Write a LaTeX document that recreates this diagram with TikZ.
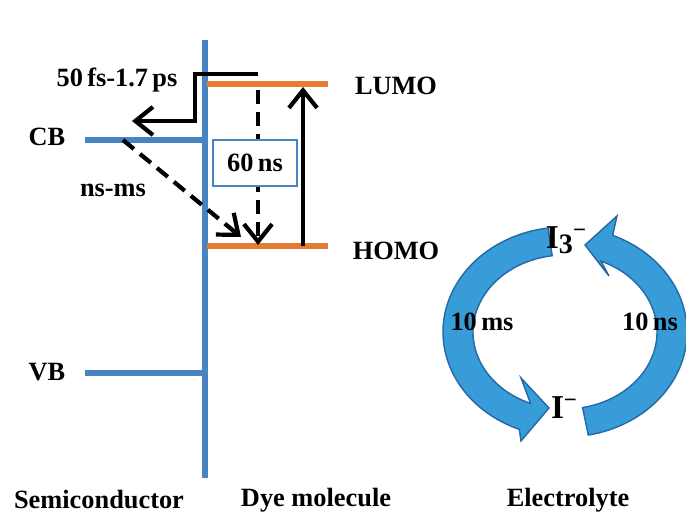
\documentclass[tikz,border=0pt]{standalone}
\usepackage{fontspec}
\setmainfont{Liberation Serif}
\usetikzlibrary{arrows.meta}
\definecolor{bleuniv}{RGB}{72,132,196}
\definecolor{orangeniv}{RGB}{228,124,54}
\definecolor{bleucycle}{RGB}{56,156,216}
\definecolor{bleubord}{RGB}{36,104,164}
\tikzset{
  niveau/.style={line width=3pt, bleuniv},
  orbitale/.style={line width=3.4pt, orangeniv},
  fleche/.style={line width=2.4pt, -{Straight Barb[length=10pt,width=16pt]}},
  pointille/.style={fleche, dash pattern=on 8pt off 4.5pt},
  etiquette/.style={font=\bfseries\fontsize{15}{17}\selectfont, inner sep=1pt},
  cycle/.style={fill=bleucycle, draw=bleubord, line width=0.8pt},
}
\begin{document}
\begin{tikzpicture}[x=0.02cm, y=-0.02cm]
    % cadre : 686 x 520 (unites en pixels)
    \useasboundingbox (0,0) rectangle (686,520);
    \def\cx{565} % centre du cycle
    \def\cy{332}

    % interface semi-conducteur / colorant
    \draw[niveau] (205,40) -- (205,478);
    \coordinate (cbG) at (85,140);  \coordinate (cbD) at (205,140);
    \coordinate (vbG) at (85,373);  \coordinate (vbD) at (205,373);
    \draw[niveau] (cbG) -- (cbD);
    \draw[niveau] (vbG) -- (vbD);

    % niveaux du colorant
    \coordinate (lumoG) at (207,84);  \coordinate (lumoD) at (328,84);
    \coordinate (homoG) at (207,246); \coordinate (homoD) at (328,246);
    \draw[orbitale] (lumoG) -- (lumoD);
    \draw[orbitale] (homoG) -- (homoD);

    \node[etiquette] (lumo) at (396,86) {LUMO};
    \node[etiquette] (homo) at (396,251) {HOMO};
    \node[etiquette] (cb) at (47,137) {CB};
    \node[etiquette] (vb) at (47,372) {VB};

    % injection
    \coordinate (inj) at (258,74);
    \coordinate (coude) at (195,121);
    \coordinate (injFin) at (132,121);
    \draw[fleche] (inj) -| (coude) -- (injFin);
    \node[etiquette] (tinj) at (117,80) {50\,fs-1.7\,ps};

    % recombinaison
    \coordinate (recDeb) at (123,140);
    \coordinate (recFin) at (241,237);
    \draw[pointille] (recDeb) -- (recFin);
    \node[etiquette] (trec) at (113,190) {ns-ms};

    % relaxation et excitation
    \coordinate (relDeb) at (258,90);
    \coordinate (relFin) at (258,245);
    \draw[pointille] (relDeb) -- (relFin);
    \node[etiquette, draw=bleuniv, line width=0.8pt, fill=white,
          minimum width=48pt, minimum height=26pt] (trel) at (255,163) {60\,ns};
    \coordinate (excDeb) at (303,246);
    \coordinate (excFin) at (303,87);
    \draw[fleche] (excDeb) -- (excFin);

    % cycle redox de l'electrolyte
    \fill[cycle] ({\cx+122*cos(262)},{\cy+105*sin(262)})
      arc[start angle=262, end angle=112, x radius=122, y radius=105]
      -- (521,441) -- (549,408) -- (521,378)
      -- ({\cx+92*cos(112)},{\cy+77*sin(112)})
      arc[start angle=112, end angle=262, x radius=92, y radius=77] -- cycle;
    \draw[cycle] ({\cx+122*cos(79)},{\cy+105*sin(79)})
      arc[start angle=79, end angle=-67, x radius=122, y radius=105]
      -- (617,216) -- (585,245) -- (609,276)
      -- ({\cx+92*cos(-67)},{\cy+77*sin(-67)})
      arc[start angle=-67, end angle=79, x radius=92, y radius=77] -- cycle;

    \node[etiquette, font=\bfseries\fontsize{19}{21}\selectfont] (itrois) at (566,240)
      {I\raisebox{-0.3ex}{\fontsize{16}{18}\selectfont 3}\raisebox{0.75ex}{\fontsize{13}{15}\selectfont −}};
    \node[etiquette, font=\bfseries\fontsize{19}{21}\selectfont] (iun) at (564,408)
      {I\raisebox{0.75ex}{\fontsize{13}{15}\selectfont −}};
    \node[etiquette] (tms) at (482,322) {10\,ms};
    \node[etiquette] (tns) at (650,322) {10\,ns};

    % legendes
    \node[etiquette] (sc) at (99,500) {Semiconductor};
    \node[etiquette] (dye) at (316,500) {Dye molecule};
    \node[etiquette] (el) at (568,500) {Electrolyte};
\end{tikzpicture}
\end{document}
